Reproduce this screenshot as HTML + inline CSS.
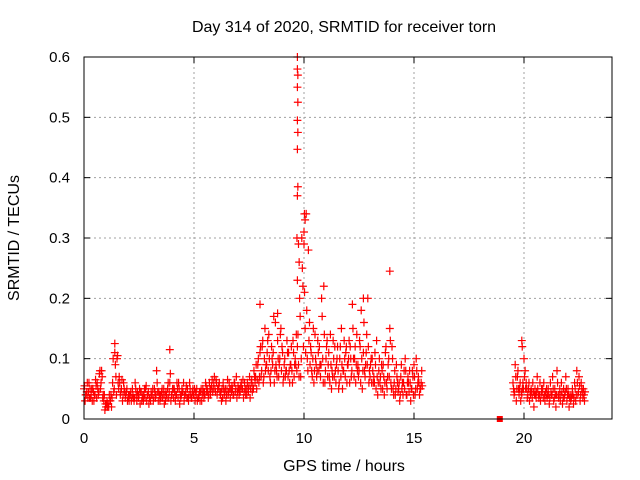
<!DOCTYPE html>
<html><head><meta charset="utf-8"><style>
body{margin:0;background:#fff;}
svg{display:block;font-family:"Liberation Sans",sans-serif;}
</style></head><body>
<svg id="chart" width="640" height="480" viewBox="0 0 640 480">
<rect width="640" height="480" fill="#fff"/>
<text x="344" y="32" font-size="16" text-anchor="middle">Day 314 of 2020, SRMTID for receiver torn</text>
<text x="344" y="471" font-size="16" text-anchor="middle">GPS time / hours</text>
<text x="0" y="0" font-size="16" text-anchor="middle" transform="translate(19,238) rotate(-90)">SRMTID / TECUs</text>
<g id="grid"></g><g id="marks"></g><g id="axes"></g>
</svg>
<script>
const xTicks=[0,5,10,15,20];
const yTicks=[0,0.1,0.2,0.3,0.4,0.5,0.6];
const yTickLabels=["0","0.1","0.2","0.3","0.4","0.5","0.6"];
const seg1Start=0, seg1Step=0.1;
const seg1A=[0.05,0.04,0.045,0.035,0.05,0.04,0.06,0.075,0.08,0.03,0.02,
0.025,0.03,0.06,0.11,0.1,0.07,0.05,0.06,0.04,0.035,
0.04,0.05,0.035,0.03,0.04,0.045,0.03,0.05,0.04,0.035,
0.04,0.05,0.08,0.045,0.035,0.04,0.03,0.05,0.06,0.04,
0.05,0.04,0.06,0.035,0.045,0.04,0.05,0.06,0.035,0.04,
0.04,0.035,0.045,0.05,0.04,0.05,0.06,0.055,0.06,0.065,
0.05,0.04,0.035,0.045,0.05,0.06,0.045,0.04,0.05,0.055,
0.045,0.05,0.06,0.04,0.055,0.06,0.05,0.07,0.09,0.11,
0.12,0.1,0.09,0.14,0.08,0.11,0.16,0.13,0.1,0.12,
0.09,0.08,0.11,0.09,0.13,0.1,0.12,0.2,0.3,0.29,
0.34,0.28,0.12,0.1,0.14,0.08,0.12,0.2,0.22,0.1,
0.09,0.14,0.07,0.12,0.1,0.06,0.15,0.08,0.11,0.09,
0.12,0.19,0.1,0.14,0.08,0.18,0.11,0.09,0.2,0.07,
0.1,0.06,0.13,0.08,0.05,0.09,0.11,0.07,0.15,0.12,
0.06,0.09,0.05,0.07,0.04,0.1,0.06,0.08,0.05,0.09,
0.1,0.07,0.05];
const seg1B=[0.03,0.06,0.035,0.05,0.03,0.055,0.04,0.05,0.035,0.015,0.03,
0.04,0.02,0.045,0.07,0.06,0.04,0.03,0.045,0.05,0.03,
0.03,0.035,0.05,0.04,0.025,0.035,0.05,0.03,0.025,0.045,
0.03,0.035,0.045,0.03,0.05,0.025,0.04,0.035,0.03,0.05,
0.03,0.05,0.025,0.05,0.03,0.055,0.03,0.04,0.05,0.03,
0.03,0.045,0.03,0.035,0.055,0.035,0.04,0.045,0.05,0.04,
0.06,0.03,0.05,0.03,0.04,0.035,0.05,0.06,0.035,0.04,
0.06,0.035,0.04,0.05,0.035,0.045,0.07,0.05,0.06,0.07,
0.06,0.08,0.13,0.07,0.1,0.06,0.08,0.07,0.15,0.06,
0.07,0.11,0.06,0.08,0.07,0.14,0.09,0.07,0.22,0.15,
0.1,0.16,0.08,0.06,0.09,0.11,0.07,0.1,0.06,0.13,
0.07,0.05,0.1,0.06,0.08,0.12,0.05,0.1,0.06,0.13,
0.07,0.1,0.06,0.09,0.12,0.05,0.08,0.14,0.06,0.1,
0.06,0.09,0.04,0.06,0.08,0.04,0.06,0.1,0.06,0.05,
0.04,0.06,0.03,0.05,0.08,0.04,0.06,0.03,0.07,0.04,
0.05,0.04,0.08];
const seg1C=[0.055,0.045,0.06,0.04,0.045,0.065,0.05,0.08,0.07,0.04,0.025,
0.02,0.04,0.1,0.09,0.105,0.06,0.065,0.05,0.045,0.04,
0.045,0.04,0.06,0.045,0.05,0.03,0.04,0.055,0.045,0.03,
0.05,0.045,0.06,0.04,0.045,0.05,0.045,0.06,0.075,0.05,
0.045,0.06,0.05,0.04,0.06,0.045,0.035,0.05,0.045,0.05,
0.05,0.04,0.05,0.045,0.06,0.045,0.05,0.065,0.07,0.06,
0.055,0.045,0.06,0.05,0.065,0.05,0.055,0.06,0.07,0.05,
0.055,0.065,0.05,0.06,0.07,0.065,0.08,0.09,0.1,0.12,
0.13,0.15,0.11,0.1,0.12,0.17,0.09,0.1,0.14,0.11,
0.1,0.13,0.08,0.12,0.11,0.09,0.14,0.17,0.25,0.21,
0.18,0.13,0.11,0.15,0.1,0.13,0.09,0.17,0.14,0.12,
0.11,0.09,0.13,0.08,0.12,0.1,0.09,0.13,0.12,0.1,
0.1,0.15,0.12,0.08,0.13,0.1,0.16,0.11,0.12,0.09,
0.08,0.11,0.07,0.1,0.09,0.07,0.12,0.09,0.13,0.1,
0.08,0.07,0.06,0.09,0.06,0.08,0.07,0.06,0.08,0.07,
0.08,0.06,0.06];
const seg1D=[0.04,0.035,0.05,0.03,0.04,0.035,0.045,0.06,0.04,0.025,0.02,
0.03,0.035,0.05,0.04,0.05,0.045,0.04,0.035,0.03,0.04,
0.035,0.03,0.04,0.035,0.045,0.04,0.035,0.04,0.035,0.04,
0.035,0.04,0.03,0.04,0.035,0.04,0.035,0.045,0.04,0.035,
0.04,0.035,0.04,0.045,0.04,0.035,0.04,0.035,0.04,0.045,
0.035,0.03,0.04,0.045,0.045,0.04,0.05,0.05,0.045,0.05,
0.045,0.05,0.04,0.04,0.045,0.05,0.04,0.045,0.045,0.05,
0.05,0.045,0.05,0.045,0.05,0.055,0.06,0.065,0.07,0.08,
0.07,0.09,0.08,0.06,0.09,0.08,0.07,0.09,0.08,0.07,
0.08,0.07,0.09,0.06,0.09,0.08,0.07,0.1,0.12,0.11,
0.08,0.09,0.07,0.08,0.07,0.08,0.09,0.06,0.08,0.07,
0.06,0.08,0.07,0.09,0.05,0.07,0.08,0.07,0.09,0.06,
0.08,0.07,0.09,0.07,0.06,0.08,0.07,0.09,0.08,0.06,
0.07,0.05,0.06,0.07,0.05,0.06,0.05,0.07,0.05,0.04,
0.05,0.045,0.04,0.06,0.05,0.04,0.045,0.05,0.04,0.05,
0.06,0.05,0.055];
const seg2Start=19.5, seg2Step=0.1;
const seg2A=[0.06,0.09,0.07,0.05,0.04,0.1,0.06,0.05,0.04,0.06,0.05,0.07,0.04,0.05,0.06,0.04,0.05,0.06,0.07,0.05,0.08,0.04,0.06,0.05,0.07,0.05,0.04,0.05,0.06,0.08,0.07,0.06,0.05];
const seg2B=[0.04,0.03,0.05,0.03,0.06,0.08,0.035,0.03,0.045,0.02,0.035,0.04,0.03,0.05,0.03,0.035,0.025,0.04,0.03,0.02,0.04,0.03,0.025,0.04,0.03,0.02,0.035,0.025,0.03,0.04,0.03,0.045,0.03];
const seg2C=[0.05,0.07,0.08,0.06,0.05,0.07,0.05,0.06,0.05,0.045,0.04,0.05,0.06,0.045,0.04,0.05,0.04,0.045,0.05,0.04,0.06,0.05,0.045,0.035,0.05,0.04,0.03,0.04,0.05,0.06,0.055,0.05,0.04];
const seg2D=[0.045,0.05,0.04,0.045,0.05,0.05,0.04,0.045,0.035,0.04,0.045,0.035,0.04,0.035,0.045,0.04,0.035,0.04,0.035,0.04,0.035,0.04,0.035,0.045,0.04,0.035,0.04,0.035,0.04,0.045,0.04,0.035,0.045];
const extraTimes=[9.7,9.7,9.72,9.7,9.72,9.7,9.72,9.7,9.72,9.7,9.68,9.75,9.78,9.7,10.02,10.05,10.0,13.9,1.4,3.9,8.0,19.9,19.92,8.8,12.7];
const extraValues=[0.6,0.58,0.57,0.55,0.525,0.495,0.475,0.447,0.385,0.37,0.3,0.29,0.26,0.23,0.34,0.33,0.31,0.245,0.125,0.115,0.19,0.13,0.12,0.175,0.2];
const squareTime=[18.9], squareValue=[0];

const L=84,R=612,T=57,B=419,xMin=0,xMax=24,yMin=0,yMax=0.6;
const xs=v=>L+(v-xMin)/(xMax-xMin)*(R-L);
const ys=v=>B-(v-yMin)/(yMax-yMin)*(B-T);
const NS="http://www.w3.org/2000/svg";
function mk(tag,attrs,parent){const e=document.createElementNS(NS,tag);for(const k in attrs)e.setAttribute(k,attrs[k]);parent.appendChild(e);return e;}
const grid=document.getElementById('grid'),marks=document.getElementById('marks'),axes=document.getElementById('axes');
xTicks.forEach(t=>{
 if(t>xMin){const g=mk('line',{x1:xs(t),x2:xs(t),y1:T,y2:B,stroke:'#a0a0a0','stroke-dasharray':'2,3'},grid);
 
 }
 mk('line',{x1:xs(t),x2:xs(t),y1:B,y2:B-6,stroke:'#000'},axes);
 mk('line',{x1:xs(t),x2:xs(t),y1:T,y2:T+6,stroke:'#000'},axes);
 const tx=mk('text',{x:xs(t),y:B+24,'font-size':15,'text-anchor':'middle'},axes);tx.textContent=t;
 
 
});
yTicks.forEach((t,i)=>{
 if(t>yMin&&t<yMax){const g=mk('line',{x1:L,x2:R,y1:ys(t),y2:ys(t),stroke:'#a0a0a0','stroke-dasharray':'2,3'},grid);
 
 }
 mk('line',{x1:L,x2:L+6,y1:ys(t),y2:ys(t),stroke:'#000'},axes);
 mk('line',{x1:R,x2:R-6,y1:ys(t),y2:ys(t),stroke:'#000'},axes);
 const tx=mk('text',{x:L-14,y:ys(t)+5,'font-size':15,'text-anchor':'end'},axes);tx.textContent=yTickLabels[i];
 
 
});
const frame=mk('rect',{x:L,y:T,width:R-L,height:B-T,fill:'none',stroke:'#000'},axes);


function plus(x,y){
 const p=mk('path',{d:`M${xs(x)-4},${ys(y)}h8M${xs(x)},${ys(y)-4}v8`,stroke:'#f00','stroke-width':1.2,fill:'none'},marks);
 
 
}
seg1A.forEach((v,i)=>plus(seg1Start+i*seg1Step,v));
seg1B.forEach((v,i)=>plus(seg1Start+i*seg1Step+0.05,v));
seg1C.forEach((v,i)=>plus(seg1Start+i*seg1Step+0.025,v));
seg1D.forEach((v,i)=>plus(seg1Start+i*seg1Step+0.075,v));
seg2A.forEach((v,i)=>plus(seg2Start+i*seg2Step,v));
seg2B.forEach((v,i)=>plus(seg2Start+i*seg2Step+0.05,v));
seg2C.forEach((v,i)=>plus(seg2Start+i*seg2Step+0.025,v));
seg2D.forEach((v,i)=>plus(seg2Start+i*seg2Step+0.075,v));
extraValues.forEach((v,i)=>plus(extraTimes[i],v));
squareTime.forEach((t,i)=>{
 const s=mk('rect',{x:xs(t)-3,y:ys(squareValue[i])-3,width:6,height:6,fill:'#f00'},marks);
 
 
});
</script>
</body></html>
